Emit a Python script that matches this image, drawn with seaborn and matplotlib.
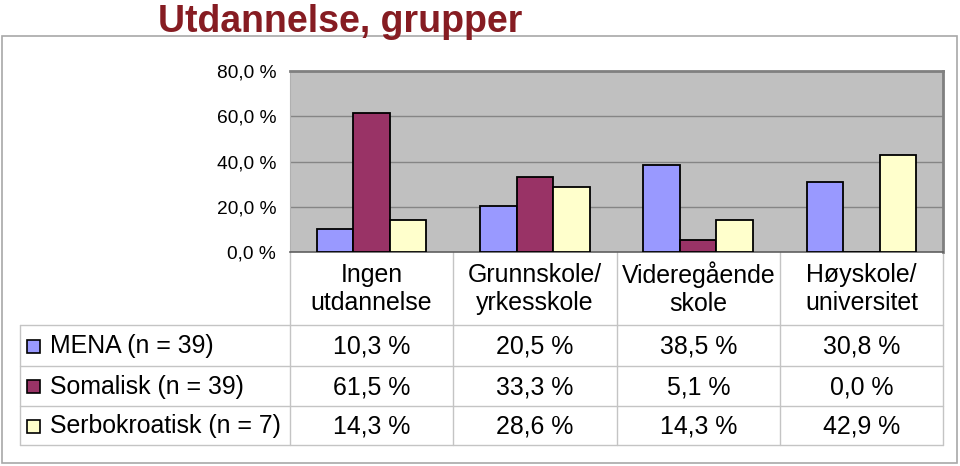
import matplotlib
matplotlib.use("Agg")
import matplotlib.pyplot as plt
import seaborn as sns
import pandas as pd
from matplotlib.patches import Rectangle

categories = ["Ingen\nutdannelse", "Grunnskole/\nyrkesskole", "Videregående\nskole", "Høyskole/\nuniversitet"]
series = ["MENA (n = 39)", "Somalisk (n = 39)", "Serbokroatisk (n = 7)"]
mena = [10.3, 20.5, 38.5, 30.8]
somalisk = [61.5, 33.3, 5.1, 0.0]
serbo = [14.3, 28.6, 14.3, 42.9]
yticks = [0, 20, 40, 60, 80]
colors = ["#9999FF", "#993366", "#FFFFCC"]
values = [mena, somalisk, serbo]

rows = []
for s, vals in zip(series, values):
    for c, v in zip(categories, vals):
        rows.append({"cat": c, "series": s, "val": v})
df = pd.DataFrame(rows)

sns.set_theme(style="white")
plt.rcParams["font.family"] = ["Liberation Sans", "DejaVu Sans"]

W, H = 960, 466
fig = plt.figure(figsize=(W / 100, H / 100), dpi=100)

# overlay axes in pixel coordinates
ov = fig.add_axes([0, 0, 1, 1], zorder=0)
ov.set_xlim(0, W)
ov.set_ylim(H, 0)
ov.axis("off")

# outer chart frame
ov.add_patch(Rectangle((2, 36), 955, 427, fill=False, edgecolor="#A8A8A8", lw=1.2))

# plot area
L, R, T, B = 290, 943, 71, 252
ax = fig.add_axes([L / W, 1 - B / H, (R - L) / W, (B - T) / H], zorder=2)
ax.set_facecolor("#C0C0C0")
sns.barplot(data=df, x="cat", y="val", hue="series", palette=colors,
            width=0.67, edgecolor="black", linewidth=1.3, ax=ax, legend=False,
            saturation=1, zorder=3)
ax.set_ylim(0, 80)
ax.set_xlim(-0.5, 3.5)
ax.set_yticks(yticks)
ax.set_yticklabels([f"{t:.1f} %".replace(".", ",") for t in yticks], fontsize=13.8)
ax.tick_params(axis="y", length=0, pad=10, colors="black")
ax.set_xticks([])
ax.set_xlabel("")
ax.set_ylabel("")
ax.yaxis.grid(True, color="#858585", lw=1)
ax.set_axisbelow(True)
for sp in ["top", "right"]:
    ax.spines[sp].set_color("#808080")
    ax.spines[sp].set_linewidth(2)
ax.spines["left"].set_color("#B0B0B0")
ax.spines["left"].set_linewidth(0.8)
ax.spines["bottom"].set_color("#606060")
ax.spines["bottom"].set_linewidth(1.2)

# title
ov.text(158, 32, "Utdannelse, grupper", fontsize=27, fontweight="bold",
        color="#861C22", ha="left", va="baseline")

# data table
line_c = "#C4C4C4"
col_x = [290, 453, 617, 780, 943]
row_y = [325, 366, 406, 445]
for x in col_x:
    ov.plot([x, x], [252, 445], color=line_c, lw=1)
for y in row_y:
    ov.plot([20, 943], [y, y], color=line_c, lw=1)
ov.plot([20, 20], [325, 445], color=line_c, lw=1)

fs = 17.9
centers = [(col_x[i] + col_x[i + 1]) / 2 for i in range(4)]
for cx, cat in zip(centers, categories):
    ov.text(cx, 289, cat, fontsize=fs, ha="center", va="center",
            linespacing=1.2, color="black")

for r, (s, vals, col) in enumerate(zip(series, values, colors)):
    cy = (row_y[r] + row_y[r + 1]) / 2 + 1
    ov.add_patch(Rectangle((27, cy - 7), 13, 13, facecolor=col,
                           edgecolor="black", lw=1.2))
    ov.text(50, cy, s, fontsize=fs, ha="left", va="center", color="black")
    for cx, v in zip(centers, vals):
        ov.text(cx, cy, f"{v:.1f} %".replace(".", ","), fontsize=fs,
                ha="center", va="center", color="black")

fig.savefig("out.png", dpi=100)
